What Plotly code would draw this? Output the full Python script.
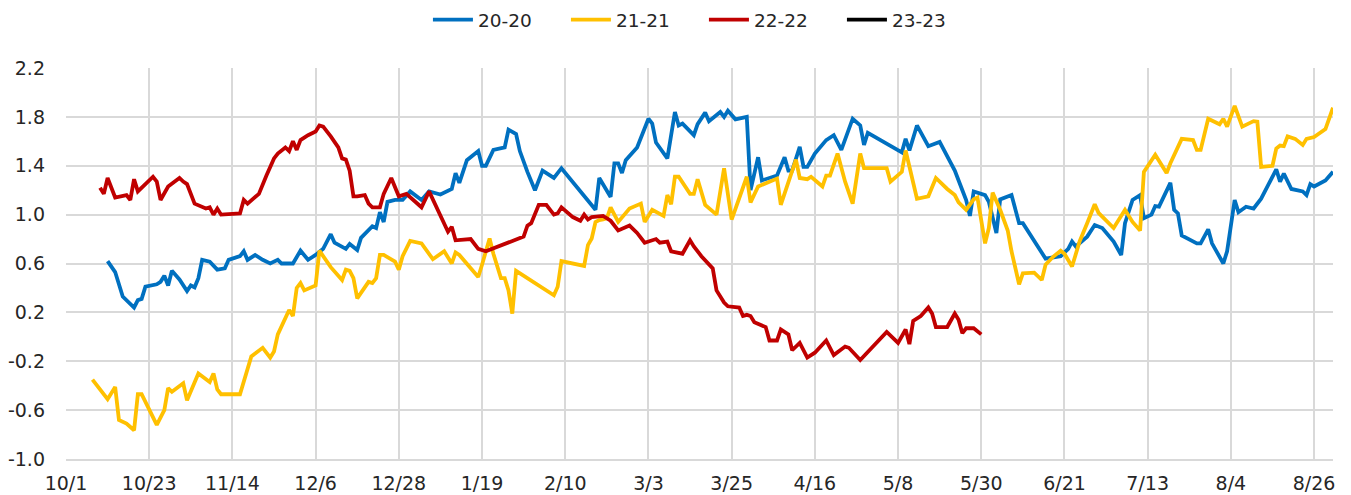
import pandas as pd
import plotly.graph_objects as go

# x values are day offsets from the start of the season (10/1)
season_start = "2019-10-01"
tick_labels_step_days = 22

s20_days = [11, 12, 13, 15, 18, 19, 20, 21, 24, 25,
            26, 27, 28, 30, 32, 33, 34, 35, 36, 38,
            40, 42, 43, 46, 47, 48, 50, 52, 54, 56,
            57, 60, 62, 64, 66, 68, 70, 71, 74, 75,
            77, 78, 81, 82, 83, 84, 85, 87, 89, 91,
            93, 94, 96, 99, 102, 103, 104, 106, 109, 110,
            111, 113, 116, 117, 119, 120, 122, 124, 126, 129,
            131, 140, 141, 144, 145, 146, 147, 148, 151, 154,
            155, 156, 159, 161, 162, 163, 166, 167, 169, 170,
            173, 174, 175, 177, 180, 181, 183, 184, 188, 190,
            191, 192, 194, 195, 196, 198, 201, 203, 205, 208,
            210, 211, 212, 218, 220, 221, 222, 223, 225, 228,
            231, 233, 235, 237, 238, 239, 240, 243, 244, 246,
            247, 250, 252, 253, 258, 259, 263, 265, 266, 267,
            270, 272, 274, 277, 279, 280, 282, 284, 285, 287,
            288, 289, 292, 293, 294, 295, 299, 300, 302, 303,
            306, 307, 309, 310, 312, 314, 316, 320, 321, 322,
            324, 327, 328, 329, 330, 333, 335]
s20_vals = [0.62, 0.57, 0.53, 0.33, 0.24, 0.30, 0.31, 0.41, 0.43, 0.45,
            0.50, 0.42, 0.54, 0.47, 0.375, 0.42, 0.405, 0.48, 0.63, 0.615,
            0.55, 0.56, 0.63, 0.66, 0.70, 0.63, 0.67, 0.63, 0.60, 0.63,
            0.60, 0.60, 0.705, 0.63, 0.67, 0.72, 0.84, 0.77, 0.72, 0.76,
            0.71, 0.81, 0.905, 0.89, 1.02, 0.94, 1.105, 1.12, 1.12, 1.19,
            1.145, 1.12, 1.19, 1.165, 1.21, 1.34, 1.26, 1.445, 1.52, 1.40,
            1.40, 1.53, 1.55, 1.695, 1.66, 1.52, 1.35, 1.20, 1.36, 1.30,
            1.38, 1.04, 1.30, 1.145, 1.42, 1.42, 1.34, 1.445, 1.55, 1.785,
            1.745, 1.59, 1.46, 1.84, 1.73, 1.745, 1.65, 1.74, 1.835, 1.765,
            1.84, 1.80, 1.85, 1.78, 1.80, 1.20, 1.47, 1.28, 1.32, 1.47,
            1.36, 1.36, 1.555, 1.39, 1.39, 1.50, 1.61, 1.65, 1.53, 1.785,
            1.73, 1.57, 1.67, 1.56, 1.53, 1.51, 1.62, 1.525, 1.73, 1.56,
            1.595, 1.47, 1.36, 1.20, 1.12, 0.99, 1.19, 1.16, 1.105, 0.85,
            1.125, 1.16, 0.93, 0.93, 0.68, 0.64, 0.66, 0.72, 0.78, 0.74,
            0.82, 0.915, 0.89, 0.78, 0.67, 0.93, 1.12, 1.16, 0.97, 1.00,
            1.07, 1.065, 1.26, 1.04, 1.01, 0.83, 0.765, 0.765, 0.88, 0.765,
            0.60, 0.70, 1.12, 1.02, 1.065, 1.05, 1.13, 1.37, 1.27, 1.335,
            1.21, 1.19, 1.16, 1.25, 1.23, 1.28, 1.35]

s21_days = [7, 9, 11, 13, 14, 16, 18, 19, 20, 24,
            26, 27, 28, 31, 32, 35, 38, 39, 40, 41,
            46, 49, 52, 54, 55, 56, 59, 60, 61, 62,
            63, 66, 67, 70, 73, 74, 75, 76, 77, 80,
            81, 82, 83, 84, 87, 88, 89, 91, 94, 97,
            100, 102, 103, 104, 109, 110, 112, 113, 115, 116,
            117, 118, 119, 129, 130, 131, 134, 137, 138, 139,
            140, 141, 142, 143, 144, 146, 149, 152, 153, 155,
            158, 159, 160, 161, 162, 165, 166, 167, 169, 172,
            174, 176, 180, 181, 183, 188, 189, 193, 194, 196,
            197, 200, 201, 202, 204, 206, 208, 210, 211, 217,
            218, 221, 222, 224, 225, 228, 230, 233, 235, 236,
            238, 240, 241, 243, 244, 245, 247, 249, 250, 252,
            253, 256, 258, 259, 261, 263, 264, 266, 268, 270,
            272, 273, 277, 280, 282, 284, 285, 288, 291, 292,
            295, 298, 299, 300, 302, 305, 306, 307, 309, 311,
            314, 315, 316, 319, 320, 321, 322, 323, 325, 327,
            328, 330, 333, 335]
s21_vals = [-0.35, -0.43, -0.51, -0.41, -0.68, -0.71, -0.765, -0.47, -0.47, -0.72,
            -0.60, -0.42, -0.45, -0.38, -0.52, -0.30, -0.37, -0.30, -0.43, -0.47,
            -0.47, -0.16, -0.09, -0.17, -0.12, 0.02, 0.22, 0.17, 0.40, 0.44,
            0.38, 0.42, 0.705, 0.57, 0.465, 0.55, 0.54, 0.48, 0.315, 0.45,
            0.44, 0.48, 0.67, 0.67, 0.615, 0.55, 0.66, 0.785, 0.765, 0.635,
            0.70, 0.60, 0.69, 0.67, 0.49, 0.59, 0.805, 0.68, 0.48, 0.48,
            0.38, 0.19, 0.54, 0.34, 0.41, 0.62, 0.60, 0.58, 0.75, 0.805,
            0.94, 0.955, 0.96, 0.97, 1.06, 0.94, 1.05, 1.09, 0.94, 1.04,
            0.99, 1.16, 1.085, 1.31, 1.31, 1.17, 1.17, 1.29, 1.08, 1.00,
            1.38, 0.96, 1.31, 1.10, 1.23, 1.295, 1.08, 1.45, 1.30, 1.29,
            1.31, 1.23, 1.32, 1.32, 1.50, 1.27, 1.09, 1.50, 1.38, 1.38,
            1.27, 1.35, 1.525, 1.28, 1.13, 1.15, 1.30, 1.21, 1.16, 1.10,
            1.04, 1.125, 1.14, 0.765, 0.89, 1.18, 1.04, 0.87, 0.70, 0.43,
            0.52, 0.525, 0.465, 0.59, 0.655, 0.705, 0.68, 0.575, 0.78, 0.93,
            1.085, 1.015, 0.89, 1.04, 0.94, 0.87, 1.35, 1.49, 1.34, 1.42,
            1.62, 1.61, 1.53, 1.53, 1.785, 1.74, 1.785, 1.72, 1.89, 1.72,
            1.765, 1.76, 1.39, 1.40, 1.54, 1.565, 1.56, 1.64, 1.62, 1.57,
            1.62, 1.635, 1.70, 1.875]

s22_days = [9, 10, 11, 13, 16, 17, 18, 19, 21, 23,
            24, 25, 27, 30, 31, 32, 34, 37, 38, 39,
            40, 41, 46, 47, 48, 51, 53, 55, 56, 58,
            59, 60, 61, 62, 64, 66, 67, 68, 70, 72,
            73, 74, 75, 76, 77, 79, 80, 81, 83, 84,
            86, 88, 90, 92, 94, 96, 98, 100, 101, 102,
            103, 107, 109, 111, 116, 121, 122, 123, 125, 127,
            129, 130, 131, 134, 136, 137, 138, 139, 142, 144,
            146, 149, 151, 153, 156, 157, 159, 160, 163, 165,
            166, 167, 168, 171, 172, 174, 175, 178, 179, 180,
            181, 182, 185, 186, 188, 189, 191, 192, 194, 196,
            198, 201, 203, 206, 207, 210, 213, 217, 220, 222,
            223, 224, 226, 228, 229, 230, 233, 235, 236, 237,
            238, 240, 242]
s22_vals = [1.22, 1.17, 1.30, 1.14, 1.16, 1.12, 1.29, 1.19, 1.25, 1.31,
            1.27, 1.12, 1.23, 1.30, 1.27, 1.25, 1.09, 1.05, 1.06, 1.00,
            1.05, 1.00, 1.01, 1.12, 1.09, 1.17, 1.32, 1.46, 1.50, 1.55,
            1.52, 1.60, 1.53, 1.61, 1.65, 1.68, 1.73, 1.72, 1.64, 1.55,
            1.46, 1.45, 1.36, 1.15, 1.15, 1.16, 1.09, 1.06, 1.06, 1.17,
            1.30, 1.15, 1.17, 1.12, 1.06, 1.19, 1.06, 0.93, 0.86, 0.90,
            0.79, 0.80, 0.72, 0.70, 0.76, 0.82, 0.91, 0.93, 1.08, 1.08,
            1.00, 1.01, 1.06, 0.98, 0.95, 1.00, 0.96, 0.98, 0.99, 0.95,
            0.87, 0.91, 0.85, 0.77, 0.80, 0.77, 0.78, 0.70, 0.68, 0.79,
            0.74, 0.70, 0.66, 0.56, 0.38, 0.28, 0.25, 0.24, 0.17, 0.18,
            0.17, 0.12, 0.08, -0.03, -0.03, 0.06, 0.02, -0.11, -0.05, -0.17,
            -0.13, -0.03, -0.15, -0.08, -0.09, -0.19, -0.09, 0.04, -0.05, 0.06,
            -0.06, 0.13, 0.17, 0.24, 0.19, 0.08, 0.08, 0.19, 0.14, 0.03,
            0.07, 0.07, 0.02]

s23_days = []
s23_vals = []

series_names = ["20-20", "21-21", "22-22", "23-23"]
series_colors = ["#0070C0", "#FFC000", "#C00000", "#000000"]

y_ticks = [-1.0, -0.6, -0.2, 0.2, 0.6, 1.0, 1.4, 1.8, 2.2]
y_tick_text = [f"{v:.1f}" for v in y_ticks]

start = pd.Timestamp(season_start)


def to_dates(days):
    return [start + pd.Timedelta(days=d) for d in days]


all_series = [(s20_days, s20_vals), (s21_days, s21_vals),
              (s22_days, s22_vals), (s23_days, s23_vals)]

fig = go.Figure()
for (days, vals), name, color in zip(all_series, series_names, series_colors):
    assert len(days) == len(vals), name
    xs = to_dates(days) if days else [None]
    ys = vals if vals else [None]
    fig.add_trace(go.Scatter(x=xs, y=ys, mode="lines", name=name,
                             line=dict(color=color, width=3.8)))

x_end = start + pd.Timedelta(days=335)

FONT = "DejaVu Sans, sans-serif"

# the page body adds an 8px offset, so the figure is sized to fill the rest of the window
fig.update_layout(
    width=1343, height=487,
    margin=dict(l=58, r=18, t=60, b=36, autoexpand=False),
    paper_bgcolor="white", plot_bgcolor="white",
    font=dict(family=FONT, size=19, color="#262626"),
    showlegend=True,
    legend=dict(orientation="h", x=0.5035, xanchor="center",
                yref="container", y=0.975, yanchor="middle",
                font=dict(family=FONT, size=18.5, color="#262626"),
                entrywidth=83, itemwidth=40,
                bgcolor="rgba(0,0,0,0)"),
    xaxis=dict(
        type="date", range=[start, x_end],
        tick0=start, dtick=tick_labels_step_days * 86400000,
        tickformat="%-m/%-d", showgrid=True, gridcolor="#d9d9d9", gridwidth=1.5,
        showline=True, linecolor="#d9d9d9", linewidth=1.5,
        ticks="", zeroline=False, tickfont=dict(family=FONT, size=19, color="#262626"),
        ticklabelstandoff=6,
    ),
    yaxis=dict(
        range=[-1.0, 2.2], tickvals=y_ticks, ticktext=y_tick_text,
        showgrid=True, gridcolor="#d9d9d9", gridwidth=1.5,
        zeroline=False, showline=False, ticks="",
        tickfont=dict(family=FONT, size=19, color="#262626"), ticklabelstandoff=20,
    ),
)

fig.write_html("out.html", config={"displayModeBar": False})
